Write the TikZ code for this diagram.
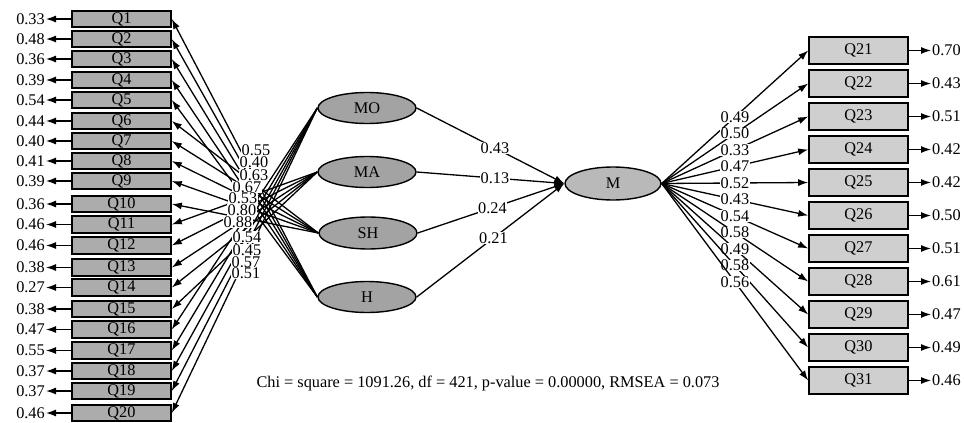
\documentclass[tikz,border=0pt]{standalone}
\usepackage{fontspec}
\setmainfont{Liberation Serif}
\usetikzlibrary{shapes.geometric,arrows.meta}
\begin{document}
\begin{tikzpicture}[x=1pt,y=-1pt, font=\fontsize{16.3}{18}\selectfont,
  lbox/.style={draw, line width=1.6pt, fill=gray!65, minimum width=99pt, minimum height=16.5pt, inner sep=0pt},
  rbox/.style={draw, line width=1.6pt, fill=gray!38, minimum width=99pt, minimum height=27pt, inner sep=0pt},
  lat/.style={ellipse, draw, line width=1.4pt, fill=gray!72, minimum width=98pt, minimum height=31pt, inner sep=0pt},
  conn/.style={line width=1.3pt, -{Latex[length=10pt,width=7pt]}},
  val/.style={inner sep=1pt},
  wlab/.style={fill=white, inner sep=0.4pt}]
\useasboundingbox (0,0) rectangle (964,423);

% left indicators
\foreach \i/\y/\e in {1/19/0.33, 2/39/0.48, 3/59/0.36, 4/80/0.39, 5/100/0.54,
  6/121/0.44, 7/141/0.40, 8/161/0.41, 9/181/0.39, 10/204/0.36,
  11/224.5/0.46, 12/245.5/0.46, 13/267.5/0.38, 14/287.5/0.27, 15/309/0.38,
  16/329.5/0.47, 17/350.5/0.55, 18/371/0.37, 19/391/0.37, 20/413/0.46} {
  \node[lbox] (Q\i) at (121.5,\y) {Q\i};
  \node[val, anchor=east] (e\i) at (46,\y) {\e};
  \draw[conn] (Q\i.west) -- (e\i.east);
}

% right indicators
\foreach \i/\e [evaluate=\i as \y using {50.5+33*(\i-21)}] in {21/0.70, 22/0.43, 23/0.51, 24/0.42, 25/0.42,
  26/0.50, 27/0.51, 28/0.61, 29/0.47, 30/0.49, 31/0.46} {
  \node[rbox] (Q\i) at (858.5,\y) {Q\i};
  \node[val, anchor=west] (e\i) at (931,\y) {\e};
  \draw[conn] (Q\i.east) -- (e\i.west);
}

% latent variables
\node[lat] (MO) at (367,108) {MO};
\node[lat] (MA) at (367,172) {MA};
\node[lat, minimum height=32pt] (SH) at (368,233) {SH};
\node[lat] (H) at (367,297) {H};
\node[lat, fill=gray!55, minimum width=96pt, minimum height=33pt] (M) at (613,183.5) {M};

% loadings (left)
\foreach \i in {1,...,5} {\draw[conn] (H.west) -- (Q\i.east);}
\foreach \i in {6,...,10} {\draw[conn] (SH.west) -- (Q\i.east);}
\foreach \i in {11,...,15} {\draw[conn] (MA.west) -- (Q\i.east);}
\foreach \i in {16,...,20} {\draw[conn] (MO.west) -- (Q\i.east);}

\foreach \t/\x/\y [count=\k] in {0.55/256/150, 0.40/254/162, 0.63/254/175, 0.67/247/187,
  0.53/243/198, 0.80/242/210, 0.88/238/222, 0.54/247/237, 0.45/247/250,
  0.57/246/262, 0.51/246/273} {
  \node[wlab] (ld\k) at (\x,\y) {\t};
}

% structural paths
\draw[conn] (MO.east) -- node[wlab, pos=0.53] {0.43} (M.west);
\draw[conn] (MA.east) -- node[wlab, pos=0.53] {0.13} (M.west);
\draw[conn] (SH.east) -- node[wlab, pos=0.51] {0.24} (M.west);
\draw[conn] (H.east) -- node[wlab, pos=0.52] {0.21} (M.west);

% loadings (right)
\foreach \i/\l in {21/0.49, 22/0.50, 23/0.33, 24/0.47, 25/0.52, 26/0.43,
  27/0.54, 28/0.58, 29/0.49, 30/0.58, 31/0.56} {
  \draw[conn] (M.east) -- node[wlab, pos=0.5] {\l} (Q\i.west);
}

\node (fit) at (488,383) {Chi = square = 1091.26, df = 421, p-value = 0.00000, RMSEA = 0.073};
\end{tikzpicture}
\end{document}
